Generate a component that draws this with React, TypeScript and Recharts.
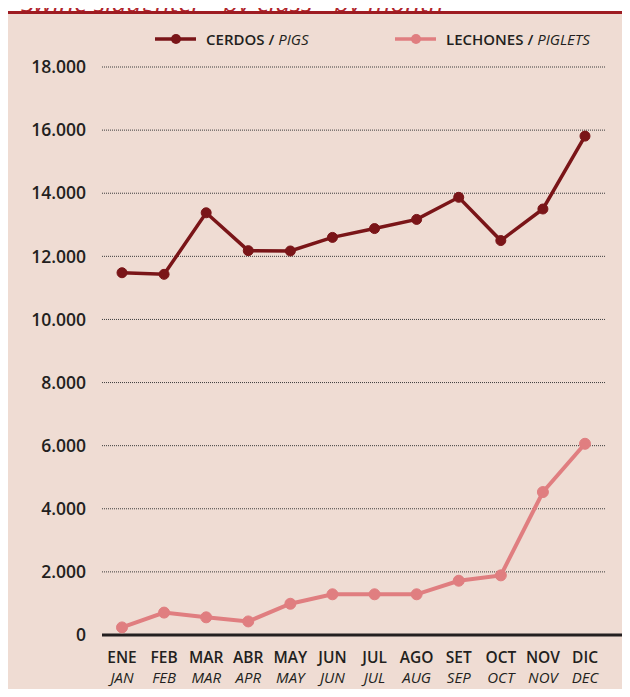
import React from 'react';
import { LineChart, Line, XAxis, YAxis, CartesianGrid, Legend, ReferenceLine } from 'recharts';

const monthsEs = ['ENE', 'FEB', 'MAR', 'ABR', 'MAY', 'JUN', 'JUL', 'AGO', 'SET', 'OCT', 'NOV', 'DIC'];
const monthsEn = ['JAN', 'FEB', 'MAR', 'APR', 'MAY', 'JUN', 'JUL', 'AUG', 'SEP', 'OCT', 'NOV', 'DEC'];
const pigs = [11480, 11430, 13380, 12180, 12170, 12600, 12880, 13170, 13870, 12500, 13500, 15810];
const piglets = [240, 710, 560, 430, 990, 1290, 1290, 1290, 1720, 1890, 4530, 6060];
const yTicks = [0, 2000, 4000, 6000, 8000, 10000, 12000, 14000, 16000, 18000];
const seriesEs = ['CERDOS', 'LECHONES'];
const seriesEn = ['PIGS', 'PIGLETS'];
const title = 'Swine slaughter - by class - by month';

const PIG_COLOR = '#7a1518';
const PIGLET_COLOR = '#e07e80';
const TEXT = '#231f20';
const FONT = '"Open Sans", "Noto Sans", sans-serif';

const data = monthsEs.map((m, i) => ({ m, en: monthsEn[i], pigs: pigs[i], piglets: piglets[i] }));

const fmt = (v: number) => String(v).replace(/\B(?=(\d{3})+(?!\d))/g, '.');

const MonthTick = (props: any) => {
  const { x, y, payload, index } = props;
  return (
    <g transform={`translate(${x},${y})`}>
      <text textAnchor="middle" y={28} fontSize={15.5} fontWeight={600} fill={TEXT} fontFamily={FONT}>
        {payload.value}
      </text>
      <text textAnchor="middle" y={47.5} fontSize={15} fontStyle="italic" fill={TEXT} fontFamily={FONT}>
        {monthsEn[index]}
      </text>
    </g>
  );
};

const LegendContent = (props: any) => {
  const payload = props.payload || [];
  return (
    <div style={{ display: 'flex', paddingLeft: 155, fontFamily: FONT, fontSize: 15, color: TEXT, alignItems: 'center', height: 16 }}>
      {payload.map((p: any, i: number) => (
        <div key={i} style={{ display: 'flex', alignItems: 'center', width: i === 0 ? 240 : 'auto' }}>
          <svg width={41} height={12} style={{ marginRight: 10 }}>
            <line x1={0} y1={6} x2={41} y2={6} stroke={p.color} strokeWidth={3.5} />
            <circle cx={21} cy={6} r={5} fill={p.color} />
          </svg>
          <span style={{ fontWeight: 600, whiteSpace: 'nowrap' }}>
            {seriesEs[i]} / <span style={{ fontStyle: 'italic', fontWeight: 400 }}>{seriesEn[i]}</span>
          </span>
        </div>
      ))}
    </div>
  );
};

export default function App() {
  return (
    <div style={{ position: 'relative', width: 630, height: 697, margin: -8, overflow: 'hidden', background: '#ffffff' }}>
      <div
        style={{
          position: 'absolute', top: -11, left: 21, fontFamily: FONT, fontStyle: 'italic', fontSize: 26,
          lineHeight: '26px', color: '#b0232a', whiteSpace: 'nowrap',
        }}
      >
        {title}
      </div>
      <div style={{ position: 'absolute', top: 11, left: 7, width: 623, height: 2.5, background: '#9e1c22' }} />
      <div style={{ position: 'absolute', top: 14, left: 8, right: 0, bottom: 0, background: '#efdcd3' }} />
      <div style={{ position: 'absolute', top: 0, left: 0 }}>
        <LineChart width={630} height={697} data={data} margin={{ top: 67, right: 25, bottom: 0, left: 0 }}>
          <CartesianGrid vertical={false} stroke="#3c3c3c" strokeDasharray="1 1" strokeWidth={1} />
          <XAxis
            dataKey="m"
            interval={0}
            height={62}
            tickSize={0}
            tickMargin={0}
            axisLine={false}
            tickLine={false}
            padding={{ left: 20, right: 20 }}
            tick={<MonthTick />}
          />
          <YAxis
            width={102}
            domain={[0, 18000]}
            ticks={yTicks}
            interval={0}
            tickSize={0}
            tickMargin={16}
            axisLine={false}
            tickLine={false}
            tickFormatter={fmt}
            tick={{ fill: TEXT, fontSize: 17.5, fontFamily: FONT, fontWeight: 600 }}
          />
          <ReferenceLine
            y={0}
            ifOverflow="visible"
            stroke={TEXT}
            strokeWidth={3}
            shape={(p: any) => <line x1={p.x1} y1={p.y1} x2={p.x2 + 25} y2={p.y2} stroke={TEXT} strokeWidth={3} />}
          />
          <Legend
            layout="horizontal"
            verticalAlign="middle"
            align="center"
            wrapperStyle={{ top: 31, left: 0, width: 630 }}
            content={<LegendContent />}
          />
          <Line
            name="CERDOS / PIGS"
            dataKey="pigs"
            stroke={PIG_COLOR}
            strokeWidth={3.5}
            dot={{ r: 5, fill: PIG_COLOR, stroke: PIG_COLOR, strokeWidth: 1 }}
            activeDot={false}
            isAnimationActive={false}
          />
          <Line
            name="LECHONES / PIGLETS"
            dataKey="piglets"
            stroke={PIGLET_COLOR}
            strokeWidth={4}
            dot={{ r: 5.5, fill: PIGLET_COLOR, stroke: PIGLET_COLOR, strokeWidth: 1 }}
            activeDot={false}
            isAnimationActive={false}
          />
        </LineChart>
      </div>
    </div>
  );
}
